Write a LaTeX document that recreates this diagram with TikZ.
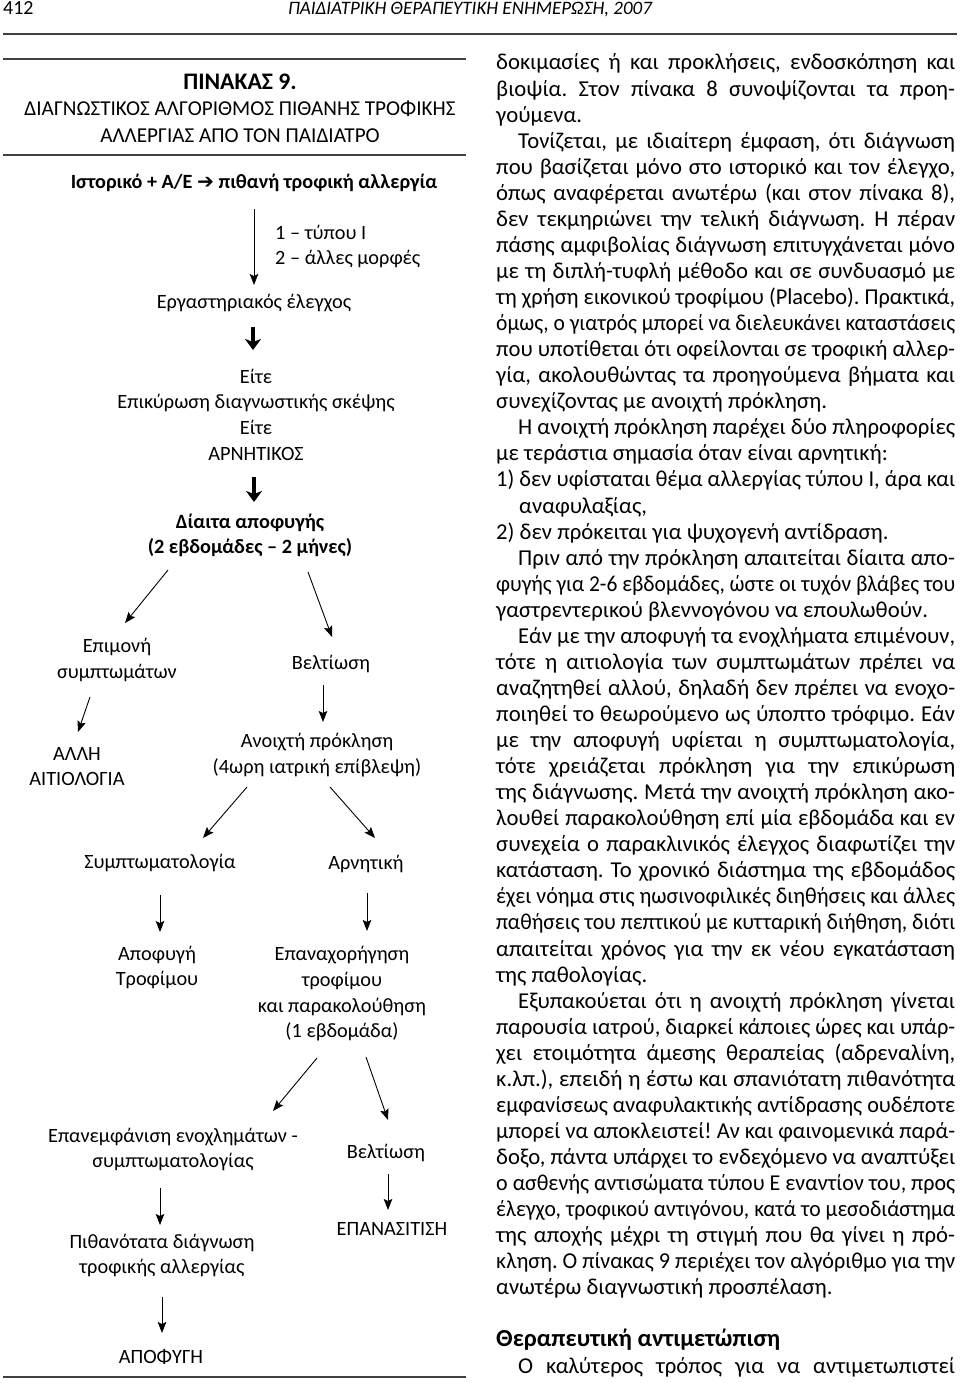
\documentclass[tikz,border=0pt]{standalone}
\usepackage{fontspec}
\setmainfont{Carlito}
\newfontfamily\symfont{DejaVu Sans}
\usepackage{graphicx}
\usetikzlibrary{arrows.meta,calc}
\frenchspacing
\newlength\colw \setlength\colw{459pt}
\newlength\availw
\newsavebox\lbox
\newcommand\jl[2]{\setlength\availw{\colw}\addtolength\availw{-#1}\sbox\lbox{#2}%
  \hbox to \colw{\hskip#1\relax\ifdim\wd\lbox>\availw\resizebox{\availw}{\height}{\usebox\lbox}\else\hbox to \availw{#2}\fi}}
\newcommand\rl[2]{\hbox{\hskip#1\relax #2}}
\newcommand\diagfont{\fontsize{20.3}{25.7}\selectfont}
\newcommand\bodyfont{\fontsize{22.7}{26}\selectfont\frenchspacing}
\newcommand\BL[2]{\node[bodyln] (b#1) at (496,{70+(#1-1)*26.06}) {#2};}
\tikzset{
 dn/.style={font=\diagfont, align=center, inner sep=0pt},
 arr/.style={line width=0.9pt, -{Stealth[length=11pt,width=8.5pt,inset=2pt]}},
 bigarr/.style={line width=4pt, -{Stealth[length=11pt,width=16pt,inset=3pt]}},
 rulel/.style={line width=1.3pt, black!75},
 bodyln/.style={anchor=base west, inner sep=0pt, font=\bodyfont},
}
\begin{document}
\begin{tikzpicture}[x=1pt,y=-1pt]
\useasboundingbox (0,0) rectangle (960,1383);
% page header
\node[anchor=base west, inner sep=0pt, font=\fontsize{20}{24}\selectfont] (pg) at (3,15) {412};
\node[anchor=base, inner sep=0pt, font=\fontsize{19}{24}\selectfont\itshape] (hd) at (470,15) {ΠΑΙΔΙΑΤΡΙΚΗ ΘΕΡΑΠΕΥΤΙΚΗ ΕΝΗΜΕΡΩΣΗ, 2007};
\draw[rulel] (3,34) -- (957,34);
% table frame
\draw[rulel] (3,59) -- (466,59);
\draw[rulel] (3,155) -- (466,155);
\draw[rulel] (3,1377) -- (466,1377);
\node[anchor=base, inner sep=0pt, font=\fontsize{23.7}{26}\selectfont\bfseries] (title) at (240,90) {ΠΙΝΑΚΑΣ 9.};
\node[anchor=center, inner sep=0pt, align=center, font=\fontsize{21.2}{27}\selectfont] (sub) at (240,121.5) {ΔΙΑΓΝΩΣΤΙΚΟΣ ΑΛΓΟΡΙΘΜΟΣ ΠΙΘΑΝΗΣ ΤΡΟΦΙΚΗΣ\\ ΑΛΛΕΡΓΙΑΣ ΑΠΟ ΤΟΝ ΠΑΙΔΙΑΤΡΟ};
% diagram nodes
\node[dn, font=\fontsize{20.2}{25.7}\selectfont\bfseries] (hist) at (254,183) {Ιστορικό + Α/Ε {\symfont\bfseries ➔} πιθανή τροφική αλλεργία};
\node[dn, anchor=west, align=left] (types) at (275,246.5) {1 – τύπου Ι\\ 2 – άλλες μορφές};
\node[dn] (lab) at (254,303) {Εργαστηριακός έλεγχος};
\node[dn] (either) at (256,414.75) {Είτε\\ Επικύρωση διαγνωστικής σκέψης\\ Είτε\\ ΑΡΝΗΤΙΚΟΣ};
\node[dn, font=\diagfont\bfseries] (diet) at (250,535.5) {Δίαιτα αποφυγής\\ (2 εβδομάδες – 2 μήνες)};
\node[dn] (persist) at (117,660) {Επιμονή\\ συμπτωμάτων};
\node[dn] (impr1) at (331,664) {Βελτίωση};
\node[dn] (other) at (77,766.5) {ΑΛΛΗ\\ ΑΙΤΙΟΛΟΓΙΑ};
\node[dn] (open) at (317,755) {Ανοιχτή πρόκληση\\ (4ωρη ιατρική επίβλεψη)};
\node[dn] (symp) at (160,863) {Συμπτωματολογία};
\node[dn] (neg) at (366,864) {Αρνητική};
\node[dn] (avfood) at (157,967.5) {Αποφυγή\\ Τροφίμου};
\node[dn] (reintro) at (342,993.75) {Επαναχορήγηση\\ τροφίμου\\ και παρακολούθηση\\ (1 εβδομάδα)};
\node[dn] (recur) at (173,1149.5) {Επανεμφάνιση ενοχλημάτων -\\ συμπτωματολογίας};
\node[dn] (impr2) at (386,1153) {Βελτίωση};
\node[dn] (refeed) at (392,1229) {ΕΠΑΝΑΣΙΤΙΣΗ};
\node[dn] (prob) at (162,1255.5) {Πιθανότατα διάγνωση\\ τροφικής αλλεργίας};
\node[dn] (avoid) at (161,1357) {ΑΠΟΦΥΓΗ};
% connectors
\draw[arr] ($(hist)+(0,26)$) -- ($(lab)+(0,-18)$);
\draw[bigarr] ($(lab)+(-1,24)$) -- ($(either)+(-3,-64.75)$);
\draw[bigarr] ($(either)+(-2,62.25)$) -- ($(diet)+(4,-33.5)$);
\draw[arr] ($(diet)+(-82,34.5)$) -- ($(persist)+(8,-37)$);
\draw[arr] ($(diet)+(58,36.5)$) -- ($(impr1)+(1,-27)$);
\draw[arr] ($(persist)+(-27,37)$) -- ($(other)+(1,-34.5)$);
\draw[arr] ($(impr1)+(-8,21)$) -- ($(open)+(6,-33)$);
\draw[arr] ($(open)+(-70,32)$) -- ($(symp)+(43,-25)$);
\draw[arr] ($(open)+(13,32)$) -- ($(neg)+(9,-26)$);
\draw[arr] ($(symp)+(0,32)$) -- ($(avfood)+(3,-35.5)$);
\draw[arr] ($(neg)+(1,29)$) -- ($(reintro)+(25,-62.75)$);
\draw[arr] ($(reintro)+(-25,64.25)$) -- ($(recur)+(100,-38.5)$);
\draw[arr] ($(reintro)+(24,63.25)$) -- ($(impr2)+(2,-33)$);
\draw[arr] ($(recur)+(-13,38.5)$) -- ($(prob)+(-2,-30.5)$);
\draw[arr] ($(impr2)+(2,21)$) -- ($(refeed)+(-4,-19)$);
\draw[arr] ($(prob)+(0,41.5)$) -- ($(avoid)+(1,-24)$);
% body text column
\BL{1}{\jl{0pt}{δοκιμασίες ή και προκλήσεις, ενδοσκόπηση και}}
\BL{2}{\jl{0pt}{βιοψία. Στον πίνακα 8 συνοψίζονται τα προη-}}
\BL{3}{\rl{0pt}{γούμενα.}}
\BL{4}{\jl{22pt}{Τονίζεται, με ιδιαίτερη έμφαση, ότι διάγνωση}}
\BL{5}{\jl{0pt}{που βασίζεται μόνο στο ιστορικό και τον έλεγχο,}}
\BL{6}{\jl{0pt}{όπως αναφέρεται ανωτέρω (και στον πίνακα 8),}}
\BL{7}{\jl{0pt}{δεν τεκμηριώνει την τελική διάγνωση. Η πέραν}}
\BL{8}{\jl{0pt}{πάσης αμφιβολίας διάγνωση επιτυγχάνεται μόνο}}
\BL{9}{\jl{0pt}{με τη διπλή-τυφλή μέθοδο και σε συνδυασμό με}}
\BL{10}{\jl{0pt}{τη χρήση εικονικού τροφίμου (Placebo). Πρακτικά,}}
\BL{11}{\jl{0pt}{όμως, ο γιατρός μπορεί να διελευκάνει καταστάσεις}}
\BL{12}{\jl{0pt}{που υποτίθεται ότι οφείλονται σε τροφική αλλερ-}}
\BL{13}{\jl{0pt}{γία, ακολουθώντας τα προηγούμενα βήματα και}}
\BL{14}{\rl{0pt}{συνεχίζοντας με ανοιχτή πρόκληση.}}
\BL{15}{\jl{22pt}{Η ανοιχτή πρόκληση παρέχει δύο πληροφορίες}}
\BL{16}{\rl{0pt}{με τεράστια σημασία όταν είναι αρνητική:}}
\BL{17}{\jl{0pt}{1) δεν υφίσταται θέμα αλλεργίας τύπου Ι, άρα και}}
\BL{18}{\rl{23pt}{αναφυλαξίας,}}
\BL{19}{\rl{0pt}{2) δεν πρόκειται για ψυχογενή αντίδραση.}}
\BL{20}{\jl{22pt}{Πριν από την πρόκληση απαιτείται δίαιτα απο-}}
\BL{21}{\jl{0pt}{φυγής για 2-6 εβδομάδες, ώστε οι τυχόν βλάβες του}}
\BL{22}{\rl{0pt}{γαστρεντερικού βλεννογόνου να επουλωθούν.}}
\BL{23}{\jl{22pt}{Εάν με την αποφυγή τα ενοχλήματα επιμένουν,}}
\BL{24}{\jl{0pt}{τότε η αιτιολογία των συμπτωμάτων πρέπει να}}
\BL{25}{\jl{0pt}{αναζητηθεί αλλού, δηλαδή δεν πρέπει να ενοχο-}}
\BL{26}{\jl{0pt}{ποιηθεί το θεωρούμενο ως ύποπτο τρόφιμο. Εάν}}
\BL{27}{\jl{0pt}{με την αποφυγή υφίεται η συμπτωματολογία,}}
\BL{28}{\jl{0pt}{τότε χρειάζεται πρόκληση για την επικύρωση}}
\BL{29}{\jl{0pt}{της διάγνωσης. Μετά την ανοιχτή πρόκληση ακο-}}
\BL{30}{\jl{0pt}{λουθεί παρακολούθηση επί μία εβδομάδα και εν}}
\BL{31}{\jl{0pt}{συνεχεία ο παρακλινικός έλεγχος διαφωτίζει την}}
\BL{32}{\jl{0pt}{κατάσταση. Το χρονικό διάστημα της εβδομάδος}}
\BL{33}{\jl{0pt}{έχει νόημα στις ηωσινοφιλικές διηθήσεις και άλλες}}
\BL{34}{\jl{0pt}{παθήσεις του πεπτικού με κυτταρική διήθηση, διότι}}
\BL{35}{\jl{0pt}{απαιτείται χρόνος για την εκ νέου εγκατάσταση}}
\BL{36}{\rl{0pt}{της παθολογίας.}}
\BL{37}{\jl{22pt}{Εξυπακούεται ότι η ανοιχτή πρόκληση γίνεται}}
\BL{38}{\jl{0pt}{παρουσία ιατρού, διαρκεί κάποιες ώρες και υπάρ-}}
\BL{39}{\jl{0pt}{χει ετοιμότητα άμεσης θεραπείας (αδρεναλίνη,}}
\BL{40}{\jl{0pt}{κ.λπ.), επειδή η έστω και σπανιότατη πιθανότητα}}
\BL{41}{\jl{0pt}{εμφανίσεως αναφυλακτικής αντίδρασης ουδέποτε}}
\BL{42}{\jl{0pt}{μπορεί να αποκλειστεί! Αν και φαινομενικά παρά-}}
\BL{43}{\jl{0pt}{δοξο, πάντα υπάρχει το ενδεχόμενο να αναπτύξει}}
\BL{44}{\jl{0pt}{ο ασθενής αντισώματα τύπου Ε εναντίον του, προς}}
\BL{45}{\jl{0pt}{έλεγχο, τροφικού αντιγόνου, κατά το μεσοδιάστημα}}
\BL{46}{\jl{0pt}{της αποχής μέχρι τη στιγμή που θα γίνει η πρό-}}
\BL{47}{\jl{0pt}{κληση. Ο πίνακας 9 περιέχει τον αλγόριθμο για την}}
\BL{48}{\rl{0pt}{ανωτέρω διαγνωστική προσπέλαση.}}
\BL{50}{\rl{0pt}{\fontsize{24.5}{26}\selectfont\bfseries Θεραπευτική αντιμετώπιση}}
\BL{51}{\jl{22pt}{Ο καλύτερος τρόπος για να αντιμετωπιστεί}}
\end{tikzpicture}
\end{document}
